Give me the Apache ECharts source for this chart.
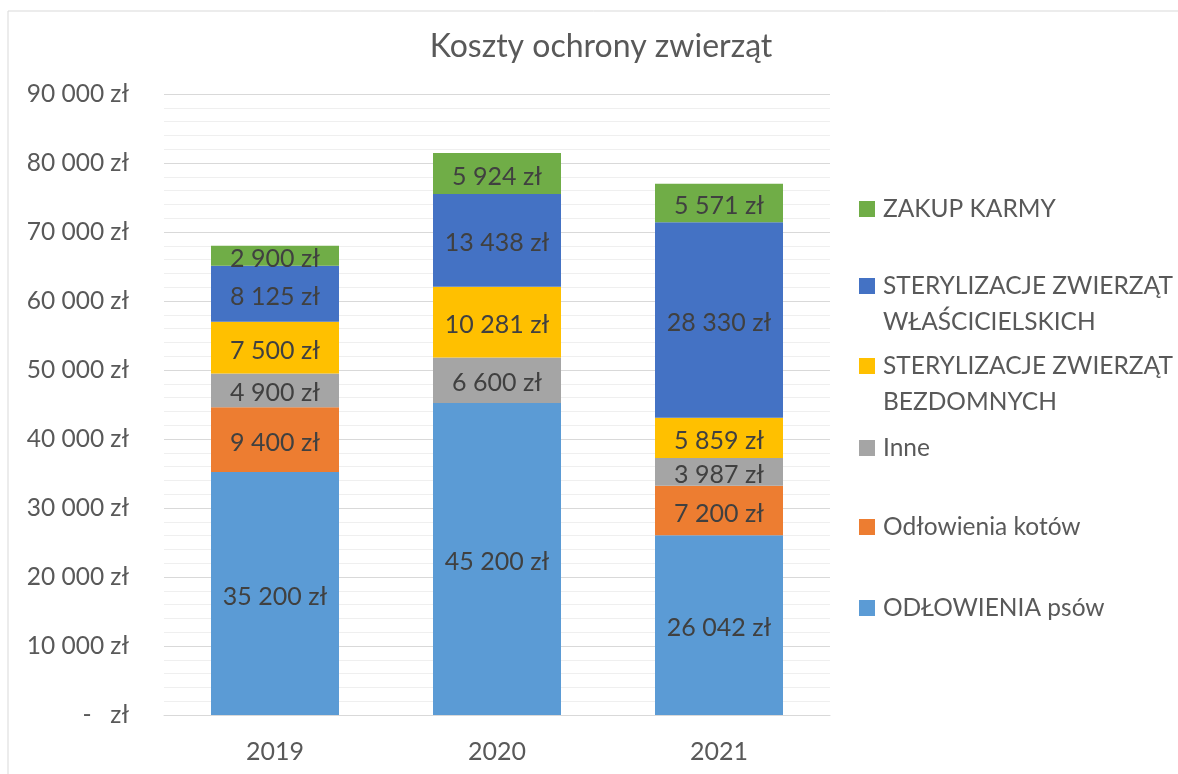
<!DOCTYPE html>
<html>
<head>
<meta charset="utf-8">
<script src="https://cdn.jsdelivr.net/npm/echarts@6/dist/echarts.min.js"></script>
<style>
  html, body { margin: 0; padding: 0; background: #fff; }
  #chart { width: 1178px; height: 774px; }
</style>
</head>
<body>
<div id="chart"></div>
<script>
var years = ['2019', '2020', '2021'];
var psy = [35200, 45200, 26042];
var koty = [9400, null, 7200];
var inne = [4900, 6600, 3987];
var bezdomne = [7500, 10281, 5859];
var wlascicielskie = [8125, 13438, 28330];
var karma = [2900, 5924, 5571];

var names = ['ODŁOWIENIA psów', 'Odłowienia kotów', 'Inne',
    'STERYLIZACJE ZWIERZĄT BEZDOMNYCH', 'STERYLIZACJE ZWIERZĄT WŁAŚCICIELSKICH', 'ZAKUP KARMY'];
var values = [psy, koty, inne, bezdomne, wlascicielskie, karma];
var colors = ['#5B9BD5', '#ED7D31', '#A5A5A5', '#FFC000', '#4472C4', '#70AD47'];

var FONT = 'Lato';
var TXT = '#595959';

function zl(v) {
    if (!v) return '-   zł';
    return String(v).replace(/\B(?=(\d{3})+(?!\d))/g, ' ') + ' zł';
}

var chart = echarts.init(document.getElementById('chart'));

var series = [];
for (var i = 0; i < names.length; i++) {
    series.push({
        name: names[i],
        type: 'bar',
        stack: 'total',
        barWidth: 128,
        data: values[i],
        itemStyle: { color: colors[i] },
        label: {
            show: true,
            position: 'inside',
            offset: [0, 3],
            color: '#404040',
            fontFamily: FONT,
            fontSize: 25,
            formatter: function (p) { return zl(p.value); }
        }
    });
}

// one legend per entry so the spacing can follow the original
// two-line names get a blank first line so the icon sits on line one
var legendTops = [590, 509, 430, 312, 232, 191];
var legendNames = {
    'STERYLIZACJE ZWIERZĄT BEZDOMNYCH': '\nSTERYLIZACJE ZWIERZĄT\nBEZDOMNYCH',
    'STERYLIZACJE ZWIERZĄT WŁAŚCICIELSKICH': '\nSTERYLIZACJE ZWIERZĄT\nWŁAŚCICIELSKICH'
};
var legends = [];
for (var j = 0; j < names.length; j++) {
    legends.push({
        data: [names[j]],
        left: 859,
        top: legendTops[j],
        padding: 0,
        itemWidth: 16,
        itemHeight: 16,
        icon: 'rect',
        selectedMode: false,
        formatter: function (n) { return legendNames[n] || n; },
        textStyle: {
            color: TXT,
            fontFamily: FONT,
            fontSize: 24.5,
            lineHeight: 36,
            padding: [0, 0, 0, 3]
        }
    });
}

var option = {
    animation: false,
    backgroundColor: '#fff',
    title: {
        text: 'Koszty ochrony zwierząt',
        left: 596,
        textAlign: 'center',
        top: 26,
        textStyle: { color: TXT, fontFamily: FONT, fontSize: 32, fontWeight: 'normal' }
    },
    legend: legends,
    grid: { left: 164, right: 348, top: 94, bottom: 59 },
    xAxis: {
        type: 'category',
        data: years,
        axisLine: { lineStyle: { color: '#d9d9d9' } },
        axisTick: { show: false },
        axisLabel: { color: TXT, fontFamily: FONT, fontSize: 25, margin: 24 }
    },
    yAxis: {
        type: 'value',
        min: 0,
        max: 90000,
        interval: 10000,
        axisLine: { show: false },
        axisTick: { show: false },
        axisLabel: { color: TXT, fontFamily: FONT, fontSize: 24.5, margin: 35, formatter: zl },
        splitLine: { lineStyle: { color: '#d9d9d9' } },
        minorTick: { show: false, splitNumber: 5 },
        minorSplitLine: { show: true, lineStyle: { color: '#efefef' } }
    },
    graphic: [{
        type: 'rect',
        shape: { x: 8, y: 11, width: 1300, height: 900 },
        style: { fill: 'none', stroke: '#d9d9d9', lineWidth: 1 },
        silent: true,
        z: -1
    }],
    series: series
};

chart.setOption(option);
</script>
</body>
</html>
